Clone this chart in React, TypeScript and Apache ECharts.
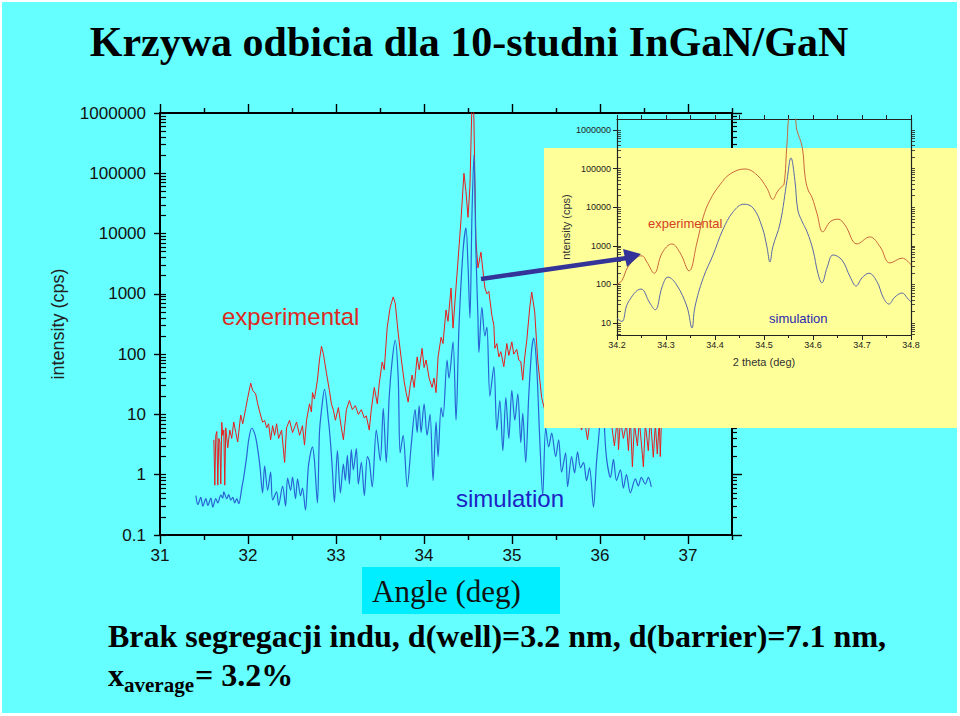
import React, { useEffect, useRef } from 'react';
import * as echarts from 'echarts';

// ---------- tick labels ----------
const mainXTicks = [31, 32, 33, 34, 35, 36, 37];
const mainYTicks = [0.1, 1, 10, 100, 1000, 10000, 100000, 1000000];
const insetXTicks = [34.2, 34.3, 34.4, 34.5, 34.6, 34.7, 34.8];
const insetYTicks = [10, 100, 1000, 10000, 100000, 1000000];

// ---------- main chart: experimental curve [angle (deg), intensity (cps)] ----------
const experimental: [number, number][] = [
  [31.612, 3.8], [31.623, 0.67], [31.634, 4.5], [31.646, 5.2], [31.657, 0.67], [31.668, 4], [31.68, 3.5],
  [31.691, 0.7], [31.702, 7.4], [31.713, 4.5], [31.725, 5.5], [31.736, 0.67], [31.747, 6], [31.77, 2.8],
  [31.793, 5.5], [31.815, 4], [31.838, 7.5], [31.861, 5], [31.883, 3.5], [31.917, 9.8], [31.94, 7],
  [31.974, 12.6], [31.997, 19], [32.031, 33], [32.053, 25], [32.087, 22], [32.11, 15], [32.133, 11],
  [32.166, 7.4], [32.189, 8], [32.212, 6], [32.234, 7], [32.257, 3.8], [32.28, 6.5], [32.302, 4.5],
  [32.325, 7], [32.348, 4], [32.382, 5.5], [32.416, 1.6], [32.438, 6], [32.472, 8], [32.506, 5],
  [32.552, 7.5], [32.586, 4.5], [32.619, 6.5], [32.642, 3.1], [32.665, 8], [32.699, 15], [32.721, 11],
  [32.733, 23], [32.755, 18], [32.789, 37], [32.812, 80], [32.835, 135], [32.857, 100], [32.891, 49],
  [32.925, 25], [32.948, 15], [32.971, 11.7], [32.993, 8], [33.027, 13], [33.061, 6], [33.084, 3.8],
  [33.118, 12], [33.152, 17], [33.186, 12], [33.22, 14], [33.254, 10], [33.288, 12], [33.322, 8.7],
  [33.344, 9.5], [33.378, 5.5], [33.401, 12], [33.435, 28], [33.469, 15], [33.492, 33], [33.525, 74],
  [33.548, 55], [33.582, 280], [33.616, 600], [33.65, 890], [33.673, 700], [33.707, 220], [33.741, 85],
  [33.775, 35], [33.797, 23], [33.82, 16], [33.843, 30], [33.865, 45], [33.888, 28], [33.922, 90],
  [33.945, 55], [33.978, 125], [34.001, 60], [34.024, 80], [34.058, 40], [34.092, 28], [34.114, 40],
  [34.137, 23], [34.16, 90], [34.194, 190], [34.216, 150], [34.25, 540], [34.273, 350], [34.307, 1250],
  [34.33, 270], [34.364, 1300], [34.398, 6000], [34.42, 16600], [34.454, 100000], [34.477, 50000],
  [34.5, 18600], [34.522, 60000], [34.545, 1500000], [34.556, 3000000], [34.567, 800000], [34.59, 7800],
  [34.613, 2700], [34.647, 4900], [34.669, 2500], [34.692, 1250], [34.715, 1000], [34.737, 1100],
  [34.771, 440], [34.794, 300], [34.805, 125], [34.828, 150], [34.851, 90], [34.873, 110], [34.907, 62],
  [34.941, 150], [34.964, 95], [34.998, 160], [35.02, 100], [35.054, 120], [35.077, 80], [35.1, 75],
  [35.122, 37], [35.145, 90], [35.168, 170], [35.202, 600], [35.224, 1070], [35.258, 500], [35.292, 80],
  [35.337, 19], [35.371, 12], [35.405, 25], [35.439, 15], [35.473, 30], [35.507, 12], [35.541, 20],
  [35.575, 10], [35.609, 15], [35.643, 8], [35.677, 12], [35.711, 9], [35.745, 10], [35.79, 5.5],
  [35.824, 8], [35.858, 3.8], [35.892, 9], [35.926, 15], [35.96, 60], [35.994, 250], [36.028, 300],
  [36.062, 80], [36.096, 12], [36.13, 7], [36.164, 3], [36.198, 9], [36.21, 2.6], [36.232, 8],
  [36.266, 4], [36.3, 7], [36.323, 2.5], [36.345, 9], [36.368, 1.35], [36.391, 7], [36.425, 3],
  [36.447, 8], [36.481, 2.2], [36.493, 1.35], [36.515, 7], [36.549, 2.5], [36.572, 9], [36.606, 1.95],
  [36.629, 7], [36.651, 2.2], [36.674, 8], [36.685, 2], [36.696, 6],
];

// ---------- main chart: simulated curve ----------
const simulation: [number, number][] = [
  [31.408, 0.45], [31.43, 0.32], [31.464, 0.42], [31.487, 0.3], [31.521, 0.4], [31.544, 0.31],
  [31.578, 0.41], [31.6, 0.29], [31.634, 0.4], [31.657, 0.34], [31.691, 0.46], [31.713, 0.41],
  [31.725, 0.52], [31.759, 0.4], [31.781, 0.47], [31.804, 0.38], [31.827, 0.42], [31.849, 0.34],
  [31.872, 0.4], [31.895, 0.33], [31.929, 0.6], [31.951, 0.9], [31.985, 2], [32.008, 3.8], [32.042, 5.9],
  [32.076, 4.8], [32.099, 3.4], [32.133, 1.5], [32.166, 0.5], [32.189, 1.4], [32.223, 0.55], [32.257, 1.1],
  [32.28, 0.38], [32.325, 0.52], [32.348, 0.31], [32.393, 0.65], [32.427, 0.3], [32.45, 0.88],
  [32.484, 0.55], [32.506, 0.91], [32.54, 0.4], [32.563, 0.85], [32.597, 0.45], [32.619, 0.6],
  [32.653, 0.26], [32.687, 1.4], [32.733, 2.9], [32.755, 1.7], [32.789, 0.34], [32.812, 5], [32.835, 11.7],
  [32.869, 26], [32.914, 8], [32.937, 3.5], [32.959, 1.2], [32.982, 0.35], [33.016, 2.5], [33.05, 0.5],
  [33.084, 1.5], [33.106, 0.8], [33.129, 2.1], [33.152, 0.7], [33.174, 2.6], [33.197, 1.2], [33.231, 2.7],
  [33.254, 0.7], [33.288, 1.6], [33.322, 0.45], [33.356, 2], [33.378, 1.7], [33.412, 0.63], [33.458, 5.5],
  [33.503, 1.7], [33.537, 12.6], [33.571, 1.6], [33.605, 20], [33.639, 80], [33.673, 170], [33.707, 40],
  [33.729, 2.3], [33.763, 4.5], [33.809, 0.63], [33.854, 3], [33.899, 12], [33.922, 5], [33.945, 14],
  [33.967, 5], [34.001, 15], [34.035, 4.5], [34.069, 10], [34.103, 0.8], [34.137, 7.5], [34.16, 2],
  [34.194, 13], [34.216, 9], [34.262, 80], [34.284, 40], [34.33, 160], [34.364, 8], [34.398, 300],
  [34.443, 5000], [34.477, 12500], [34.5, 3000], [34.522, 400], [34.545, 20000], [34.567, 200000],
  [34.59, 5000], [34.613, 400], [34.624, 107], [34.658, 600], [34.692, 200], [34.715, 280], [34.749, 20],
  [34.794, 62], [34.828, 5.5], [34.862, 17], [34.896, 2.5], [34.93, 19], [34.964, 4], [34.998, 25],
  [35.032, 8], [35.066, 22], [35.1, 3.4], [35.122, 10.5], [35.156, 1.6], [35.19, 20], [35.224, 120],
  [35.247, 185], [35.281, 60], [35.315, 4], [35.349, 0.45], [35.383, 6], [35.417, 2.9], [35.451, 4.9],
  [35.496, 2], [35.53, 3.8], [35.564, 1.1], [35.609, 2.3], [35.632, 0.63], [35.677, 2], [35.711, 1.07],
  [35.745, 2.4], [35.779, 1.3], [35.813, 1.6], [35.847, 0.8], [35.881, 1.3], [35.926, 0.29], [35.96, 1.6],
  [35.994, 6], [36.028, 60], [36.051, 6], [36.074, 1.9], [36.119, 0.9], [36.153, 1.8], [36.187, 0.8],
  [36.232, 1.2], [36.266, 0.6], [36.3, 1], [36.345, 0.5], [36.402, 0.85], [36.436, 0.65], [36.47, 0.9],
  [36.515, 0.7], [36.549, 0.9], [36.583, 0.63],
];

// ---------- inset: experimental (2 theta, cps) ----------
const insetExperimental: [number, number][] = [
  [34.2, 100], [34.21, 126], [34.222, 280], [34.241, 510], [34.251, 550], [34.261, 380], [34.276, 195],
  [34.292, 650], [34.312, 1120], [34.329, 650], [34.347, 225], [34.363, 1180], [34.376, 5600],
  [34.39, 15500], [34.41, 38000], [34.431, 73000], [34.461, 98000], [34.486, 68000], [34.506, 31000],
  [34.518, 16000], [34.527, 25000], [34.535, 33000], [34.541, 40000], [34.547, 460000], [34.553, 2200000],
  [34.562, 2200000], [34.567, 1000000], [34.578, 360000], [34.584, 60000], [34.59, 28000], [34.598, 18000],
  [34.608, 7000], [34.62, 2300], [34.635, 4200], [34.651, 4900], [34.665, 3500], [34.69, 1120],
  [34.716, 1700], [34.737, 940], [34.757, 360], [34.782, 480], [34.8, 320],
];

// ---------- inset: simulation ----------
const insetSimulation: [number, number][] = [
  [34.2, 13], [34.21, 11], [34.222, 33], [34.249, 76], [34.267, 33], [34.278, 22], [34.292, 86],
  [34.304, 155], [34.322, 96], [34.343, 26], [34.353, 7.4], [34.359, 26], [34.376, 148], [34.396, 580],
  [34.416, 2600], [34.437, 7600], [34.459, 12000], [34.478, 9500], [34.496, 3100], [34.506, 940],
  [34.512, 380], [34.518, 940], [34.533, 3900], [34.547, 50000], [34.555, 190000], [34.563, 50000],
  [34.569, 8500], [34.578, 4200], [34.588, 2300], [34.6, 780], [34.61, 195], [34.618, 110], [34.629, 280],
  [34.641, 580], [34.659, 430], [34.676, 155], [34.688, 91], [34.7, 148], [34.714, 195], [34.731, 115],
  [34.743, 47], [34.755, 31], [34.767, 47], [34.782, 60], [34.792, 45], [34.8, 35],
];

const SANS = '"Liberation Sans", Arial, Helvetica, sans-serif';
const SERIF = '"Liberation Serif", "Times New Roman", Times, serif';
const BLACK = '#000';

const decadeSteps = [2, 3, 4, 5, 6, 7, 8, 9];
const mainYMinor = mainYTicks.slice(0, -1).flatMap((d) => decadeSteps.map((m) => +(d * m).toPrecision(6)));
const mainYComb = [...mainYTicks, ...mainYMinor];
const insetYMinor = [1, ...insetYTicks].flatMap((d) => decadeSteps.map((m) => d * m));
const insetYComb = [...insetYTicks, ...insetYMinor];
const mainXMinor = mainXTicks.map((v) => v + 0.5);
const insetXMinor = insetXTicks.slice(0, -1).map((v) => +(v + 0.05).toFixed(2));
const insetXAll = [...insetXTicks, ...insetXMinor];

type AxOpts = {
  line?: boolean;
  lw?: number;
  tw?: number;
  inside?: boolean;
  color?: string;
  z?: number;
  label?: any;
  extra?: any;
};

function ax(kind: 'value' | 'log', grid: number, min: number, max: number, position: string,
  ticks: number[], length: number, o: AxOpts = {}) {
  const color = o.color ?? BLACK;
  const a: any = {
    type: kind,
    gridIndex: grid,
    min,
    max,
    position,
    axisLine: { show: o.line ?? false, onZero: false, lineStyle: { color, width: o.lw ?? 2 } },
    axisTick: { show: true, customValues: ticks, length, inside: o.inside ?? false, lineStyle: { color, width: o.tw ?? 1.4 } },
    axisLabel: o.label ?? { show: false },
    splitLine: { show: false },
    z: o.z ?? 0,
    ...(o.extra ?? {}),
  };
  if (kind === 'log') a.logBase = 10;
  return a;
}

function txt(text: string, x: number, y: number, size: number, fill: string, family: string,
  extra: any = {}, align = 'left') {
  return {
    type: 'text',
    z: 20,
    silent: true,
    x,
    y,
    rotation: extra.rotation ?? 0,
    style: {
      text,
      fill,
      fontFamily: family,
      fontSize: size,
      fontWeight: extra.weight ?? 'normal',
      align,
      verticalAlign: 'middle',
      textAlign: align,
      textVerticalAlign: 'middle',
      ...(extra.shadow
        ? { shadowColor: '#ffffff', shadowOffsetX: 2, shadowOffsetY: 2, shadowBlur: 0 }
        : {}),
    },
  };
}

export default function App() {
  const ref = useRef<HTMLDivElement>(null);

  useEffect(() => {
    if (!ref.current) return;
    const chart = echarts.init(ref.current, null, { renderer: 'svg' });

    const mainXLabel = {
      show: true, customValues: mainXTicks, formatter: (v: number) => String(v),
      fontSize: 17, color: '#111', fontFamily: SANS, margin: 12,
    };
    const mainYLabel = {
      show: true, customValues: mainYTicks, formatter: (v: number) => String(v),
      fontSize: 17, color: '#111', fontFamily: SANS, margin: 14,
    };
    const insetXLabel = {
      show: true, customValues: insetXTicks, formatter: (v: number) => v.toFixed(1),
      fontSize: 9, color: '#222', fontFamily: SANS, margin: 5,
    };
    const insetYLabel = {
      show: true, customValues: insetYTicks, formatter: (v: number) => String(v),
      fontSize: 9, color: '#222', fontFamily: SANS, margin: 6,
    };
    const IC = '#222';
    const IMIN = 4.9;
    const IMAX = 1930000;

    const option: any = {
      animation: false,
      backgroundColor: '#66FFFF',
      grid: [
        { left: 160, top: 113, width: 572, height: 422, containLabel: false },
        { left: 617, top: 119, width: 294, height: 216, containLabel: false },
      ],
      xAxis: [
        ax('value', 0, 31, 37.5, 'bottom', mainXTicks, 9, { line: true, label: mainXLabel }),
        ax('value', 0, 31, 37.5, 'bottom', mainXMinor, 5),
        ax('value', 0, 31, 37.5, 'top', mainXTicks, 9, { line: true }),
        ax('value', 0, 31, 37.5, 'top', mainXMinor, 5),
        ax('value', 1, 34.2, 34.8, 'bottom', insetXTicks, 5, {
          line: true, lw: 1.2, tw: 1, color: IC, z: 11, label: insetXLabel,
          extra: {
            name: '2 theta (deg)', nameLocation: 'middle', nameGap: 21,
            nameTextStyle: { fontSize: 11, color: '#333', fontFamily: SANS },
          },
        }),
        ax('value', 1, 34.2, 34.8, 'bottom', insetXMinor, 3, { tw: 1, color: IC, z: 11 }),
        ax('value', 1, 34.2, 34.8, 'top', insetXAll, 4, { line: true, lw: 1.2, tw: 1, color: IC, z: 11 }),
      ],
      yAxis: [
        ax('log', 0, 0.1, 1000000, 'left', mainYTicks, 6, {
          line: true, label: mainYLabel,
          extra: {
            name: 'intensity (cps)', nameLocation: 'middle', nameRotate: 90, nameGap: 93,
            nameTextStyle: { fontSize: 18, color: '#222', fontFamily: SANS },
          },
        }),
        ax('log', 0, 0.1, 1000000, 'left', mainYComb, 6, { inside: true, tw: 1.2 }),
        ax('log', 0, 0.1, 1000000, 'right', mainYTicks, 10, { line: true }),
        ax('log', 0, 0.1, 1000000, 'right', mainYMinor, 5, { tw: 1.2 }),
        ax('log', 1, IMIN, IMAX, 'left', insetYTicks, 4, {
          line: true, lw: 1.2, tw: 1, color: IC, z: 11, label: insetYLabel,
          extra: {
            name: 'ntensity (cps)', nameLocation: 'middle', nameRotate: 90, nameGap: 46,
            nameTextStyle: { fontSize: 11, color: '#333', fontFamily: SANS },
          },
        }),
        ax('log', 1, IMIN, IMAX, 'left', insetYComb, 4, { inside: true, tw: 0.8, color: IC, z: 11 }),
        ax('log', 1, IMIN, IMAX, 'right', insetYComb, 4, { line: true, lw: 1.2, tw: 0.8, color: IC, z: 11 }),
      ],
      series: [
        {
          type: 'line', name: 'experimental', xAxisIndex: 0, yAxisIndex: 0, data: experimental,
          symbol: 'none', silent: true, z: 2, lineStyle: { color: '#e61e1e', width: 1 },
          itemStyle: { color: '#e61e1e' },
        },
        {
          type: 'line', name: 'simulation', xAxisIndex: 0, yAxisIndex: 0, data: simulation,
          symbol: 'none', silent: true, z: 3, smooth: 0.3, lineStyle: { color: '#2864d2', width: 1.2 },
          itemStyle: { color: '#2864d2' },
        },
        {
          type: 'line', name: 'experimental (zoom)', xAxisIndex: 4, yAxisIndex: 4, data: insetExperimental,
          symbol: 'none', silent: true, z: 12, smooth: 0.4, lineStyle: { color: '#c9663c', width: 1 },
          itemStyle: { color: '#c9663c' },
        },
        {
          type: 'line', name: 'simulation (zoom)', xAxisIndex: 4, yAxisIndex: 4, data: insetSimulation,
          symbol: 'none', silent: true, z: 12, smooth: 0.4, lineStyle: { color: '#5a68aa', width: 1 },
          itemStyle: { color: '#5a68aa' },
        },
      ],
      graphic: [
        { type: 'rect', z: 5, silent: true, shape: { x: 544, y: 148, width: 416, height: 280 }, style: { fill: '#FFFF99' } },
        txt('Krzywa odbicia dla 10-studni InGaN/GaN', 469, 42, 42, '#000', SERIF, { weight: 'bold', shadow: true }, 'center'),
        txt('experimental', 222, 316, 24, '#dc2a1e', SANS),
        txt('simulation', 456, 498, 24, '#1c22c4', SANS),
        txt('experimental', 648, 223, 13, '#d4401e', SANS),
        txt('simulation', 769, 318, 13, '#2a2ab0', SANS),
        { type: 'line', z: 20, silent: true, shape: { x1: 481, y1: 279, x2: 627, y2: 258 }, style: { stroke: '#333399', lineWidth: 4.5 } },
        { type: 'polygon', z: 20, silent: true, shape: { points: [[641, 254], [623, 249], [627, 267]] }, style: { fill: '#333399' } },
        { type: 'rect', z: 19, silent: true, shape: { x: 362, y: 567, width: 198, height: 47 }, style: { fill: '#00EEFF' } },
        txt('Angle (deg)', 372, 591, 31, '#111', SERIF),
        txt('Brak segregacji indu, d(well)=3.2 nm, d(barrier)=7.1 nm,', 108, 636, 32, '#000', SERIF, { weight: 'bold', shadow: true }),
        txt('x', 108, 675, 32, '#000', SERIF, { weight: 'bold', shadow: true }),
        txt('average', 124, 685, 21, '#000', SERIF, { weight: 'bold', shadow: true }),
        txt('= 3.2%', 195, 675, 32, '#000', SERIF, { weight: 'bold', shadow: true }),
      ],
    };

    chart.setOption(option);
    return () => chart.dispose();
  }, []);

  return (
    <div style={{ position: 'absolute', left: 0, top: 0, width: 960, height: 716 }}>
      <div ref={ref} style={{ position: 'absolute', left: 0, top: 0, width: 960, height: 716 }} />
      <div
        style={{
          position: 'absolute', left: 0, top: 0, width: 960, height: 716, boxSizing: 'border-box',
          borderStyle: 'solid', borderColor: '#fff', borderWidth: '2px 3px 3px 2px', pointerEvents: 'none',
        }}
      />
    </div>
  );
}
